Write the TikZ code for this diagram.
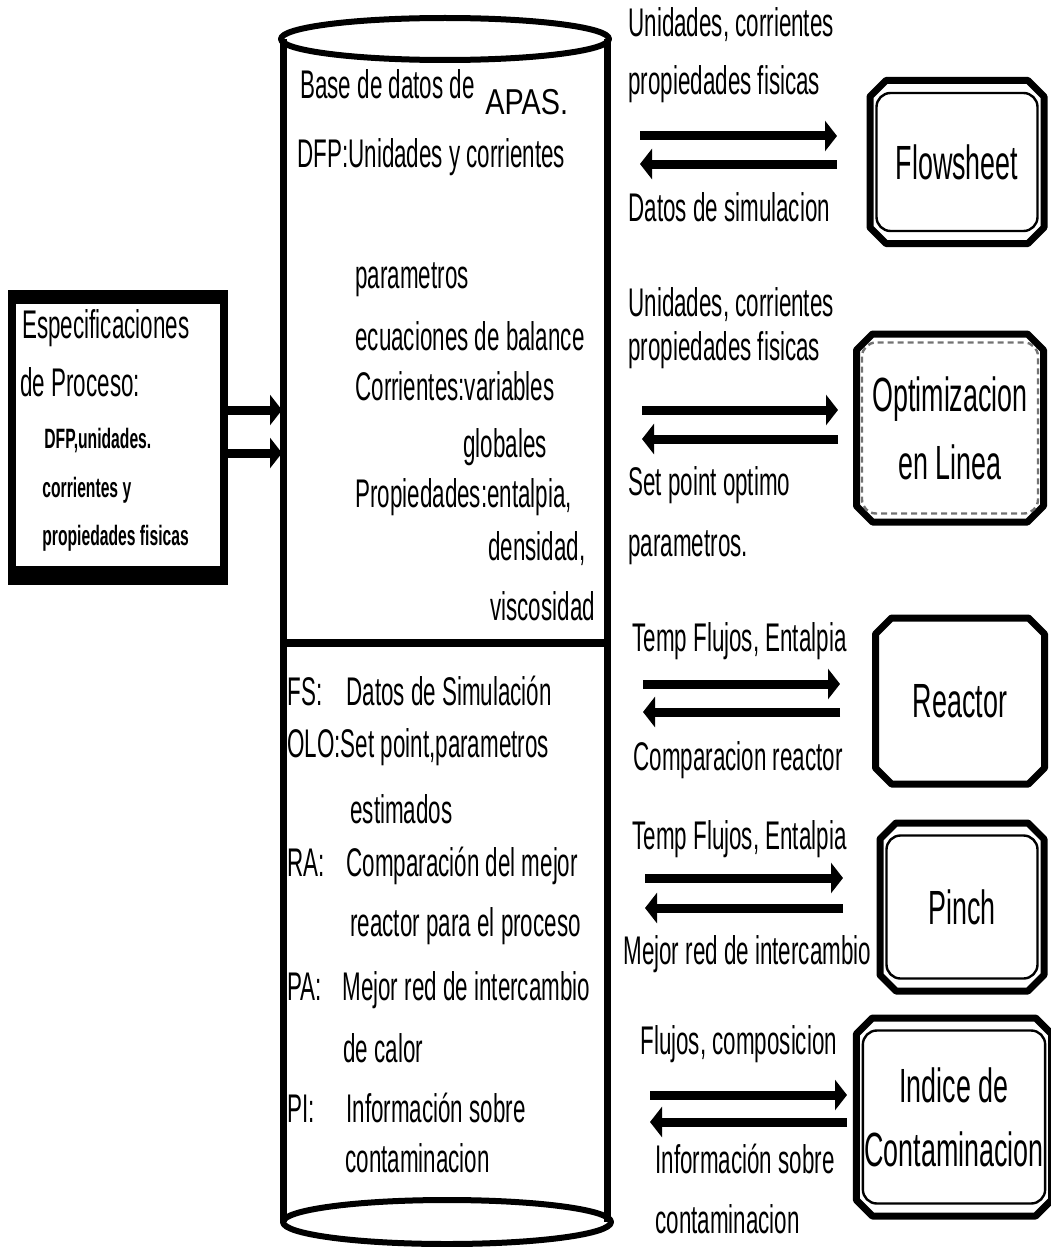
\documentclass[tikz,border=0pt]{standalone}
\usepackage{fontspec}
\setmainfont{Liberation Sans}
\newfontfamily\narrowsf[FakeStretch=0.56]{Liberation Sans}
\newfontfamily\apassf[FakeStretch=0.8]{Liberation Sans}
\usetikzlibrary{arrows.meta,calc,shapes.misc}

\begin{document}
\begin{tikzpicture}[
  x=0.5pt, y=-0.5pt,
  line join=round,
  txt/.style={anchor=base west, inner sep=0pt, font=\narrowsf\fontsize{20}{24}\selectfont},
  smalltxt/.style={anchor=base west, inner sep=0pt, font=\narrowsf\bfseries\fontsize{14}{16}\selectfont},
  tool/.style={draw, chamfered rectangle, chamfered rectangle sep=4pt, line width=3.5pt,
               align=center, inner sep=0pt, font=\narrowsf\fontsize{24}{34}\selectfont},
  innerline/.style={line width=1.2pt, rounded corners=7pt},
  flow/.style={line width=4.5pt, -{Triangle[length=6pt,width=15pt]}},
  wall/.style={line width=3.5pt},
]
  \useasboundingbox (0,0) rectangle (1050,1247);

  % process specifications
  \node[draw, line width=4pt, minimum width=106pt, minimum height=143.5pt] (spec) at (118,437.5) {};
  \fill (8,290) rectangle (228,304);
  \fill (8,566) rectangle (228,585);
  \node[txt] (sp1) at (22,338) {Especificaciones};
  \node[txt] (sp2) at (20,396) {de Proceso:};
  \foreach \x/\y/\t [count=\i] in {44/448/{DFP,unidades.}, 42/497/{corrientes y}, 42/545/{propiedades fisicas}}
    \node[smalltxt] (sq\i) at (\x,\y) {\t};

  % APAS database cylinder
  \coordinate (dbtop) at (445,39);
  \coordinate (dbbot) at (447,1222);
  \draw[wall] (283,39) -- (283,1222) (607,39) -- (607,1222);
  \draw[line width=3pt] (dbtop) ellipse [x radius=82pt, y radius=10.5pt];
  \draw[line width=3pt] (dbbot) ellipse [x radius=82pt, y radius=11pt];
  \draw[line width=4pt] (283,643) -- (607,643);

  \foreach \x/\y/\t [count=\i] in {
      300/98/{Base de datos de},
      297/167/{DFP:Unidades y corrientes},
      355/288/{parametros},
      355/350/{ecuaciones de balance},
      355/400/{Corrientes:variables},
      463/457/{globales},
      355/507/{Propiedades:entalpia,},
      488/560/{densidad,},
      490/620/{viscosidad}}
    \node[txt] (db\i) at (\x,\y) {\t};
  \node[anchor=base west, inner sep=0pt, font=\apassf\fontsize{18}{20}\selectfont] (apas) at (485,115) {APAS.};

  \foreach \x/\y/\t [count=\i] in {
      287/705/{\makebox[29.5pt][l]{FS:}Datos de Simulación},
      287/757/{OLO:Set point,parametros},
      350/823/{estimados},
      287/876/{\makebox[29.5pt][l]{RA:}Comparación del mejor},
      350/936/{reactor para el proceso},
      287/1000/{\makebox[27.5pt][l]{PA:}Mejor red de intercambio},
      343/1062/{de calor},
      287/1122/{\makebox[29.5pt][l]{PI:}Información sobre},
      345/1172/{contaminacion}}
    \node[txt] (res\i) at (\x,\y) {\t};

  % input arrows
  \coordinate (in1) at (282,410);
  \coordinate (in2) at (282,453);
  \foreach \c in {in1,in2} \draw[flow] (spec.east |- \c) -- (\c);

  % tools
  \node[tool, minimum width=87pt, minimum height=81.5pt] (fs) at (957,162) {Flowsheet};
  \node[tool, minimum width=93.5pt, minimum height=94pt] (olo) at (950,428) {Optimizacion\\en Linea};
  \node[tool, minimum width=84.5pt, minimum height=83pt] (ra) at (960,701) {Reactor};
  \node[tool, minimum width=82pt, minimum height=84pt] (pa) at (962,907) {Pinch};
  \node[tool, minimum width=92.5pt, minimum height=99pt] (pi) at (954,1117) {Indice de\\[-2pt]Contaminacion};
  \foreach \b in {fs,pa,pi}
    \draw[innerline] ($(\b.west |- \b.north)+(5pt,-8pt)$) rectangle ($(\b.east |- \b.south)+(-5pt,8pt)$);
  \draw[innerline, black!55, densely dashed] ($(olo.west |- olo.north)+(4.5pt,-6pt)$) rectangle ($(olo.east |- olo.south)+(-4.5pt,6pt)$);

  % exchange arrows
  \foreach \n/\xa/\xb/\ya/\yb in {fs/640/837/136/164, olo/642/838/410/439, ra/643/840/684/712,
                                  pa/645/843/878/908, pi/650/847/1095/1122} {
    \coordinate (\n-a) at (\xa,\ya);
    \coordinate (\n-b) at (\xb,\ya);
    \coordinate (\n-c) at (\xb,\yb);
    \coordinate (\n-d) at (\xa,\yb);
    \draw[flow] (\n-a) -- (\n-b);
    \draw[flow] (\n-c) -- (\n-d);
  }

  \foreach \x/\y/\t [count=\i] in {
      628/37/{Unidades, corrientes},
      628/95/{propiedades fisicas},
      628/221/{Datos de simulacion},
      628/316/{Unidades, corrientes},
      628/360/{propiedades fisicas},
      628/495/{Set point optimo},
      628/556/{parametros.},
      632/651/{Temp Flujos, Entalpia},
      633/770/{Comparacion reactor},
      632/849/{Temp Flujos, Entalpia},
      623/964/{Mejor red de intercambio},
      640/1054/{Flujos, composicion},
      655/1173/{Información sobre},
      655/1233/{contaminacion}}
    \node[txt] (lb\i) at (\x,\y) {\t};
\end{tikzpicture}
\end{document}
